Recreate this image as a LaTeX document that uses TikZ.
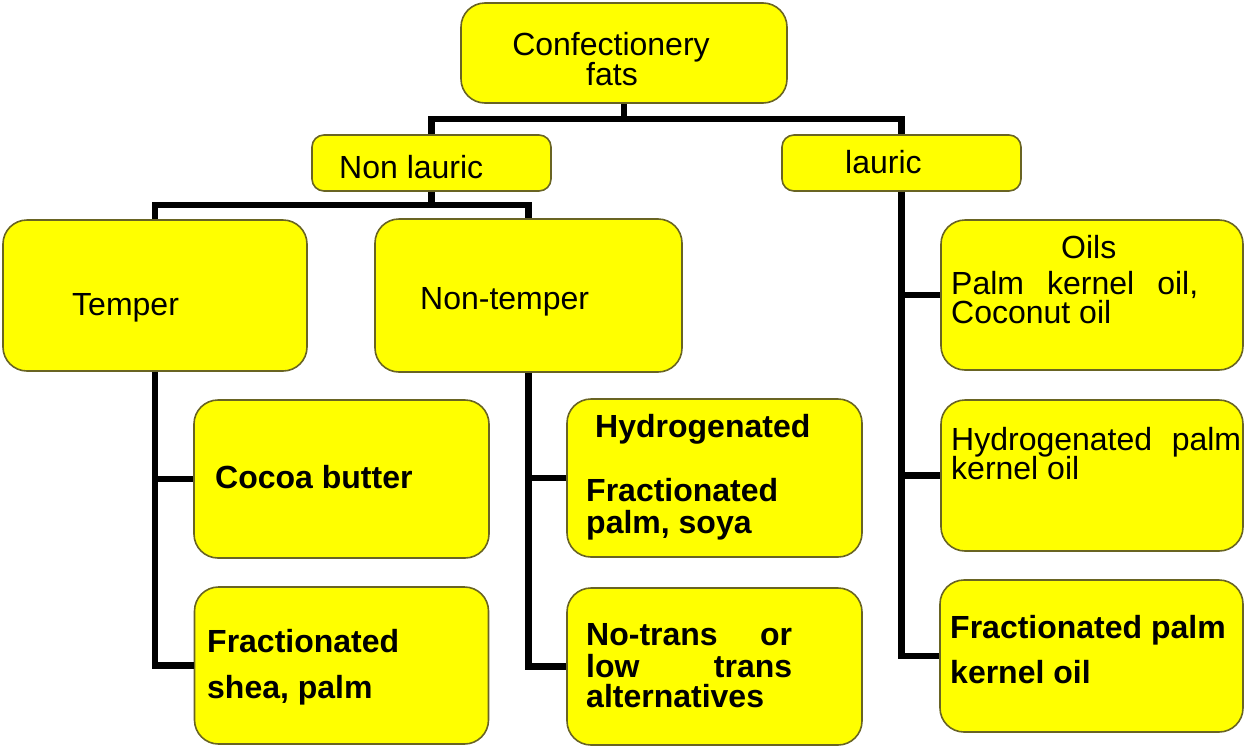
\documentclass[tikz,border=0pt]{standalone}
\usepackage{fontspec}
\setmainfont{Liberation Sans}
\definecolor{boxfill}{RGB}{255,255,0}
\definecolor{boxline}{RGB}{105,100,35}
\tikzset{
  box/.style={draw=boxline, line width=1.6pt, fill=boxfill, rounded corners=24pt, inner sep=0pt},
  smallbox/.style={box, rounded corners=12pt},
  conn/.style={line width=6.5pt, draw=black},
  txt/.style={anchor=base west, inner sep=0pt, font=\fontsize{32}{30}\selectfont},
  ctxt/.style={txt, anchor=base},
  btxt/.style={txt, font=\fontsize{32}{30}\selectfont\bfseries},
}
\begin{document}
\begin{tikzpicture}[x=1pt,y=-1pt]
\useasboundingbox (0,0) rectangle (1244,747);
% boxes
\node[box, minimum width=326pt, minimum height=100pt] (root) at (624,53) {};
\node[smallbox, minimum width=239pt, minimum height=56pt] (nonlauric) at (431.5,163) {};
\node[smallbox, minimum width=239pt, minimum height=56pt] (lauric) at (901.5,163) {};
\node[box, minimum width=304pt, minimum height=151pt] (temper) at (155,295.5) {};
\node[box, minimum width=307pt, minimum height=153pt] (nontemper) at (528.5,295.5) {};
\node[box, minimum width=295pt, minimum height=158pt] (cocoa) at (341.5,479) {};
\node[box, minimum width=294pt, minimum height=157pt] (shea) at (341.5,665.5) {};
\node[box, minimum width=295pt, minimum height=158pt] (hydro) at (714.5,478) {};
\node[box, minimum width=295pt, minimum height=157pt] (notrans) at (714.5,666.5) {};
\node[box, minimum width=302pt, minimum height=150pt] (oils) at (1092,295) {};
\node[box, minimum width=302pt, minimum height=151pt] (hpko) at (1092,475.5) {};
\node[box, minimum width=303pt, minimum height=152pt] (fpko) at (1091.5,656) {};
% connectors
\coordinate (j1) at (624,119);
\coordinate (j2) at (431.5,205);
\draw[conn] (root.south) -- (j1);
\draw[conn] (nonlauric.north) |- (j1) -| (lauric.north);
\draw[conn] (nonlauric.south) -- (j2);
\draw[conn] (temper.north) |- (j2) -| (nontemper.north);
\draw[conn] (temper.south) |- (cocoa.west);
\draw[conn] (temper.south) |- (shea.west);
\draw[conn] (nontemper.south) |- (hydro.west);
\draw[conn] (nontemper.south) |- (notrans.west);
\draw[conn] (lauric.south) |- (oils.west);
\draw[conn] (lauric.south) |- (hpko.west);
\draw[conn] (lauric.south) |- (fpko.west);
% texts
\node[ctxt] (t-root1) at (611,55) {Confectionery};
\node[ctxt] (t-root2) at (612,85) {fats};
\node[txt] (t-nonlauric) at (339,178) {Non lauric};
\node[txt] (t-lauric) at (845,173) {lauric};
\node[txt] (t-temper) at (72,315) {Temper};
\node[txt] (t-nontemper) at (420,309) {Non-temper};
\node[btxt] (t-cocoa) at (215,488) {Cocoa butter};
\node[btxt] (t-shea1) at (207,652) {Fractionated};
\node[btxt] (t-shea2) at (207,698) {shea, palm};
\node[btxt] (t-hydro1) at (595,437) {Hydrogenated};
\node[btxt] (t-hydro2) at (586,501) {Fractionated};
\node[btxt] (t-hydro3) at (586,533) {palm, soya};
\node[btxt] (t-notrans1) at (586,645) {\makebox[206pt][s]{No-trans\hfill or}};
\node[btxt] (t-notrans2) at (586,677) {\makebox[206pt][s]{low\hfill trans}};
\node[btxt] (t-notrans3) at (586,707) {alternatives};
\node[txt] (t-oils1) at (1061,258) {Oils};
\node[txt] (t-oils2) at (951,294) {\makebox[247pt][s]{Palm\hfill kernel\hfill oil,}};
\node[txt] (t-oils3) at (951,323) {Coconut oil};
\node[txt] (t-hpko1) at (951,450) {\makebox[290pt][s]{Hydrogenated\hfill palm}};
\node[txt] (t-hpko2) at (951,479) {kernel oil};
\node[btxt] (t-fpko1) at (950,638) {Fractionated palm};
\node[btxt] (t-fpko2) at (950,683) {kernel oil};
\end{tikzpicture}
\end{document}
